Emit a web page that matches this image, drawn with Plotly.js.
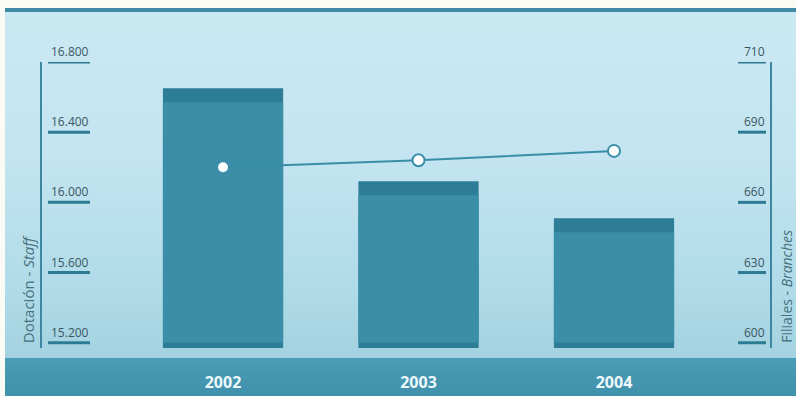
<!DOCTYPE html>
<html>
<head>
<meta charset="utf-8">
<script src="https://cdn.plot.ly/plotly-3.0.1.min.js"></script>
<style>
  html, body { margin:0; padding:0; background:#fbfbf6; }
  #wrap { position:relative; width:796px; height:396px; overflow:hidden; background:#fbfbf6; }
  #bg { position:absolute; left:5px; top:8px; right:0; bottom:0;
        background: linear-gradient(to bottom, #cbe9f3 0px, #c3e4f0 150px, #b0dbe8 280px, #a4d2e0 350px); }
  #topline { position:absolute; left:5px; right:0; top:8px; height:4px; background:#3f8ba6; }
  #band { position:absolute; left:5px; right:0; top:358px; bottom:0;
          background: linear-gradient(to bottom, #4b9cb6, #3f91ac); }
  #chart { position:absolute; left:0; top:0; width:796px; height:396px; }
</style>
</head>
<body>
<div id="wrap">
  <div id="bg"></div>
  <div id="topline"></div>
  <div id="band"></div>
  <div id="chart"></div>
</div>
<script>
// ---- data ----
const years = ['2002', '2003', '2004'];
const staff = [16650, 16120, 15910];          // Dotación - Staff (bars, left axis)
const branches = [675, 678, 682];              // Filiales - Branches (line, right axis)
const staffTicks = [15200, 15600, 16000, 16400, 16800];
const staffTickText = ['15.200', '15.600', '16.000', '16.400', '16.800'];
const branchTicks = [600, 630, 660, 690, 720];
const branchTickText = ['600', '630', '660', '690', '710'];

// ---- styling ----
const barColor = '#3a8ea8';
const barDark = '#2d7d97';
const lineColor = '#3a8ea8';
const axisColor = '#3d87a0';
const tickTextColor = '#3a5662';
const topBand = 80;   // dark band height at top of bars (data units)
const yMin = 15170, yMax = 16800;
const y2Min = 600 - (15200 - yMin) * (120 / 1600), y2Max = 720;

const traces = [
  { type:'bar', x: years, y: staff, marker:{color: barDark}, width:0.615,
    hoverinfo:'skip', showlegend:false },
  { type:'bar', x: years, y: staff.map(v => v - topBand - 15200), base: 15200,
    marker:{color: barColor}, width:0.615, hoverinfo:'skip', showlegend:false },
  { type:'scatter', mode:'lines+markers', x: years, y: branches, yaxis:'y2',
    line:{color: lineColor, width:2},
    marker:{size:12, color:'#ffffff', line:{color: lineColor, width:2}},
    showlegend:false }
];

const shapes = [];
const annotations = [];
staffTicks.forEach((t, i) => {
  shapes.push({type:'line', xref:'paper', yref:'y', x0:0.0082, x1:0.0659, y0:t, y1:t,
               line:{color:'#2c7b93', width:3}});
  annotations.push({xref:'paper', yref:'y', x:0.0105, y:t, yshift:1, xanchor:'left', yanchor:'bottom',
                    text: staffTickText[i], showarrow:false, borderpad:0,
                    font:{family:'Open Sans', size:12, color: tickTextColor}});
});
branchTicks.forEach((t, i) => {
  shapes.push({type:'line', xref:'paper', yref:'y2', x0:0.956, x1:0.9945, y0:t, y1:t,
               line:{color:'#2c7b93', width:3}});
  annotations.push({xref:'paper', yref:'y2', x:0.9945, y:t, yshift:1, xanchor:'right', yanchor:'bottom',
                    text: branchTickText[i], showarrow:false, borderpad:0,
                    font:{family:'Open Sans', size:12, color: tickTextColor}});
});
annotations.push({xref:'paper', yref:'paper', x:-0.0192, y:0.01, xanchor:'center', yanchor:'bottom',
                  textangle:-90, text:'Dotación - <i>Staff</i>', showarrow:false,
                  font:{family:'Open Sans', size:15, color:'#46707d'}});
annotations.push({xref:'paper', yref:'paper', x:1.0235, y:0.01, xanchor:'center', yanchor:'bottom',
                  textangle:-90, text:'Filiales - <i>Branches</i>', showarrow:false,
                  font:{family:'Open Sans', size:14, color:'#46707d'}});

const layout = {
  width:796, height:396,
  margin:{l:42, r:26, t:62, b:48, pad:0},
  paper_bgcolor:'rgba(0,0,0,0)', plot_bgcolor:'rgba(0,0,0,0)',
  barmode:'overlay', bargap:0.385,
  xaxis:{type:'category', range:[-0.926, 2.798], showgrid:false, zeroline:false,
         showline:false, ticks:'', ticklabelstandoff:23,
         tickfont:{family:'Open Sans', size:16, color:'#eef8fb', weight:'bold'}},
  yaxis:{range:[yMin, yMax], showgrid:false, zeroline:false, showticklabels:false,
         showline:true, linecolor:axisColor, linewidth:2, ticks:''},
  yaxis2:{range:[y2Min, y2Max], overlaying:'y', side:'right', showgrid:false, zeroline:false,
          showticklabels:false, showline:true, linecolor:axisColor, linewidth:2, ticks:''},
  shapes: shapes,
  annotations: annotations
};

Plotly.newPlot('chart', traces, layout, {staticPlot:true, displayModeBar:false});
</script>
</body>
</html>
